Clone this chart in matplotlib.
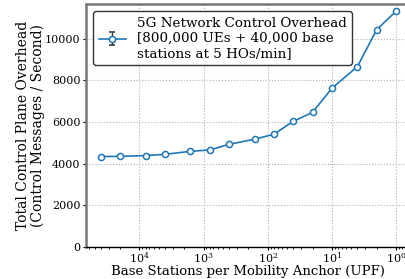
import matplotlib
matplotlib.use('Agg')
import matplotlib.pyplot as plt
import numpy as np

# base stations per UPF (x) and control overhead (y)
bs_per_upf = [40000, 20000, 8000, 4000, 1600, 800, 400, 160, 80, 40, 20, 10, 4, 2, 1]
overhead = [4340, 4350, 4385, 4445, 4590, 4655, 4925, 5170, 5410, 6030,
            6460, 7615, 8655, 10430, 11310]
overhead_err = [0] * len(overhead)

legend_txt = '5G Network Control Overhead\n[800,000 UEs + 40,000 base\nstations at 5 HOs/min]'

plt.rcParams['font.family'] = 'DejaVu Serif'
plt.rcParams['font.size'] = 8

fig = plt.figure(figsize=(4.05, 2.79), dpi=100)
ax = fig.add_axes([0.2123, 0.1147, 0.802, 0.871])

ax.errorbar(bs_per_upf, overhead, yerr=overhead_err, color='#1f77b4', lw=1.2,
            marker='o', ms=4.4, mfc='white', mec='#1f77b4', mew=1.1,
            capsize=2.5, ecolor='#333333', elinewidth=1, label=legend_txt)

ax.set_xscale('log')
ax.invert_xaxis()
ax.set_ylim(bottom=0)

ax.grid(True, which='major', ls=':', color='#b0b0b0', lw=0.8)
ax.set_xlabel('Base Stations per Mobility Anchor (UPF)', fontsize=9.5, labelpad=-0.6)
ax.set_ylabel('Total Control Plane Overhead\n(Control Messages / Second)', fontsize=10,
              labelpad=0, linespacing=1.05)

# spines: gray left/top, black bottom
ax.spines['left'].set_color('#777777')
ax.spines['left'].set_linewidth(1.8)
ax.spines['top'].set_color('#777777')
ax.spines['top'].set_linewidth(1.8)
ax.spines['right'].set_visible(False)
ax.spines['bottom'].set_color('black')
ax.spines['bottom'].set_linewidth(1.0)
ax.tick_params(axis='both', labelsize=8, length=2.5, pad=1.5)
ax.tick_params(axis='x', which='both', pad=0.3)
ax.tick_params(axis='x', which='minor', length=1.5)

ax.legend(loc='upper left', fontsize=9.7, frameon=True, fancybox=True,
          edgecolor='#333333', framealpha=1, borderaxespad=0.55,
          handlelength=2.0)

fig.savefig('out.png', dpi=100)
